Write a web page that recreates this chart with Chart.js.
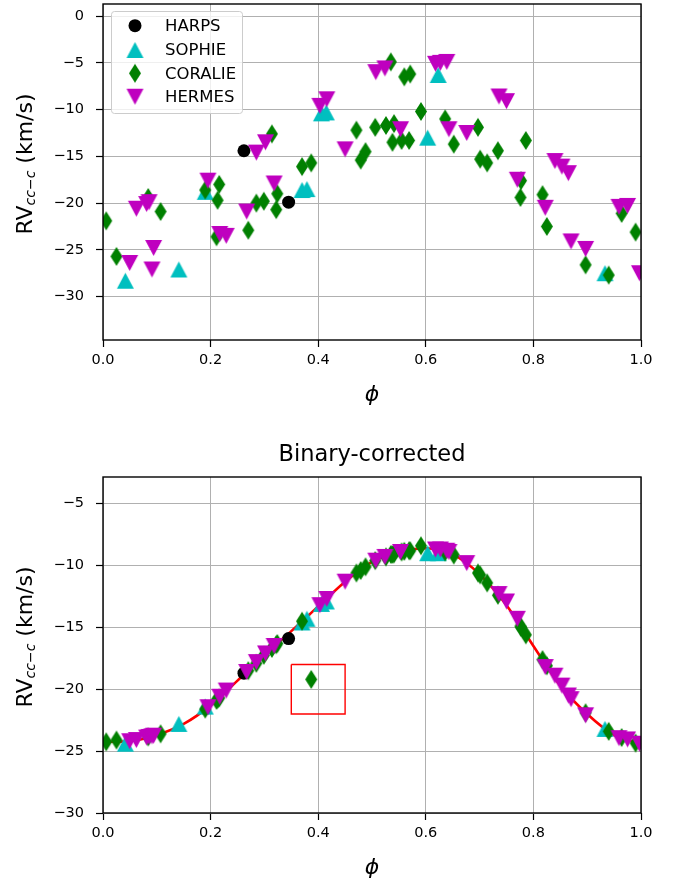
<!DOCTYPE html>
<html>
<head>
<meta charset="utf-8">
<script src="https://cdn.jsdelivr.net/npm/chart.js@4.4.0/dist/chart.umd.min.js"></script>
<style>
  html, body { margin: 0; padding: 0; background: #fff; }
  #wrap { position: relative; width: 676px; height: 884px; overflow: hidden; }
  canvas { position: absolute; left: 0; }
</style>
</head>
<body>
<div id="wrap">
  <canvas id="topChart" width="676" height="428" style="top:-8px"></canvas>
  <canvas id="bottomChart" width="676" height="464" style="top:420px"></canvas>
</div>
<script>
// ---- data ----
const xTicks = [0, 0.2, 0.4, 0.6, 0.8, 1.0];
const topYTicks = [0, -5, -10, -15, -20, -25, -30];
const bottomYTicks = [-5, -10, -15, -20, -25, -30];

const harpsPhase = [0.262, 0.345];
const harpsRv = [-14.4, -19.9];
const harpsRvCorr = [-18.7, -15.9];

const sophiePhase = [0.0415, 0.141, 0.190, 0.370, 0.379, 0.406, 0.415, 0.6035, 0.623, 0.933];
const sophieRv = [-28.3, -27.1, -18.8, -18.6, -18.5, -10.4, -10.3, -13.0, -6.3, -27.5];
const sophieRvCorr = [-24.4, -22.8, -21.4, -14.6, -14.3, -13.1, -12.9, -9.0, -9.0, -23.2];

const coraliePhase = [0.006, 0.025, 0.084, 0.107, 0.190, 0.211, 0.213, 0.216, 0.270, 0.285,
  0.299, 0.314, 0.322, 0.324, 0.370, 0.387, 0.471, 0.479, 0.488, 0.506,
  0.526, 0.535, 0.538, 0.541, 0.555, 0.560, 0.569, 0.571, 0.591, 0.636,
  0.652, 0.697, 0.701, 0.714, 0.734, 0.776, 0.777, 0.786, 0.817, 0.825,
  0.897, 0.940, 0.964, 0.990];
const coralieRv = [-21.9, -25.7, -19.4, -20.9, -18.6, -23.6, -19.7, -18.0, -22.9, -20.0,
  -19.8, -12.6, -20.7, -19.0, -16.1, -15.7, -12.2, -15.4, -14.5, -11.9,
  -11.7, -4.9, -13.5, -11.5, -13.3, -6.5, -13.3, -6.2, -10.2, -11.0,
  -13.7, -11.9, -15.3, -15.7, -14.4, -19.4, -17.6, -13.3, -19.1, -22.5,
  -26.6, -27.7, -21.1, -23.1];
const coralieRvCorr = [-24.25, -24.1, -23.85, -23.6, -21.6, -20.9, -20.8, -20.7, -18.5, -17.9,
  -17.25, -16.7, -16.4, -16.3, -14.5, -19.2, -10.6, -10.4, -10.1, -9.6,
  -9.3, -9.1, -9.1, -9.05, -8.9, -8.85, -8.8, -8.8, -8.4, -8.9,
  -9.15, -10.6, -10.75, -11.4, -12.4, -14.9, -15.0, -15.6, -17.6, -18.1,
  -21.9, -23.4, -23.9, -24.35];

const hermesPhase = [0.0496, 0.062, 0.081, 0.0856, 0.091, 0.094, 0.195, 0.217, 0.229, 0.267,
  0.285, 0.302, 0.318, 0.403, 0.416, 0.450, 0.507, 0.524, 0.553, 0.618,
  0.627, 0.639, 0.643, 0.676, 0.736, 0.750, 0.770, 0.822, 0.840, 0.853,
  0.865, 0.870, 0.897, 0.959, 0.975, 0.997];
const hermesRv = [-26.4, -20.6, -20.1, -19.9, -27.1, -24.8, -17.6, -23.3, -23.5, -20.9,
  -14.6, -13.5, -17.9, -9.6, -8.9, -14.25, -6.0, -5.6, -12.1, -5.1,
  -5.0, -4.9, -12.1, -12.5, -8.6, -9.1, -17.5, -20.5, -15.5, -16.1,
  -16.8, -24.1, -24.9, -20.4, -20.3, -27.5];
const hermesRvCorr = [-24.2, -24.1, -23.9, -23.85, -23.8, -23.75, -21.45, -20.6, -20.1, -18.6,
  -17.8, -17.1, -16.5, -13.2, -12.7, -11.3, -9.6, -9.3, -8.9, -8.7,
  -8.7, -8.8, -8.9, -9.8, -12.3, -12.9, -14.3, -18.2, -18.9, -19.7,
  -20.5, -20.8, -22.1, -23.95, -24.05, -24.4];

// orbit model (red curve) in the corrected panel
const modelPhase = [0, 0.05, 0.10, 0.15, 0.20, 0.25, 0.30, 0.35, 0.40, 0.45, 0.50,
  0.55, 0.60, 0.65, 0.70, 0.75, 0.80, 0.85, 0.90, 0.95, 1.0];
const modelRv = [-24.25, -24.2, -23.7, -22.8, -21.3, -19.3, -17.2, -15.3, -13.3, -11.3, -9.7,
  -8.9, -8.6, -9.1, -10.7, -13.2, -16.5, -19.7, -22.0, -23.7, -24.4];

// outlier box
const boxPhase = [0.35, 0.45, 0.45, 0.35, 0.35];
const boxRv = [-18, -18, -22, -22, -18];

// ---- helpers ----
const FONT = '"DejaVu Sans", "Liberation Sans", sans-serif';
const pts = (xs, ys) => xs.map((x, i) => ({ x, y: ys[i] }));
const minus = (v) => String(v).replace('-', '\u2212');

function makeMarker(kind, color) {
  const c = document.createElement('canvas');
  const w = kind === 'diamond' ? 14 : 19;
  const h = kind === 'diamond' ? 21 : 18;
  c.width = w;
  c.height = h;
  const g = c.getContext('2d');
  g.fillStyle = color;
  g.beginPath();
  if (kind === 'up') {
    g.moveTo(w / 2, 1); g.lineTo(w - 1, h - 1); g.lineTo(1, h - 1);
  } else if (kind === 'down') {
    g.moveTo(1, 1); g.lineTo(w - 1, 1); g.lineTo(w / 2, h - 1);
  } else {
    g.moveTo(w / 2, 1); g.lineTo(w - 1, h / 2); g.lineTo(w / 2, h - 1); g.lineTo(1, h / 2);
  }
  g.closePath();
  g.fill();
  return c;
}

const instruments = [
  { label: 'HARPS', color: '#000000', style: 'circle' },
  { label: 'SOPHIE', color: '#00bfbf', style: makeMarker('up', '#00bfbf') },
  { label: 'CORALIE', color: '#008000', style: makeMarker('diamond', '#008000') },
  { label: 'HERMES', color: '#bf00bf', style: makeMarker('down', '#bf00bf') },
];

function scatterSet(inst, data, order) {
  return {
    type: 'scatter',
    label: inst.label,
    data,
    pointStyle: inst.style,
    pointRadius: inst.style === 'circle' ? 6.5 : 8,
    backgroundColor: inst.color,
    borderWidth: 0,
    order,
    clip: 0,
  };
}

function drawYLabel(ctx, baseX, centerY) {
  const big = '22px ' + FONT;
  const small = 'italic 14px ' + FONT;
  const parts = [
    { t: 'RV', f: big, dy: 0 },
    { t: 'cc\u2212c', f: small, dy: 3 },
    { t: ' (km/s)', f: big, dy: 0 },
  ];
  let total = 0;
  parts.forEach((p) => { ctx.font = p.f; p.w = ctx.measureText(p.t).width; total += p.w; });
  ctx.save();
  ctx.translate(baseX, centerY);
  ctx.rotate(-Math.PI / 2);
  ctx.fillStyle = '#000';
  ctx.textBaseline = 'alphabetic';
  ctx.textAlign = 'left';
  let x = -total / 2;
  parts.forEach((p) => { ctx.font = p.f; ctx.fillText(p.t, x, p.dy); x += p.w; });
  ctx.restore();
}

function framePlugin(extra) {
  return {
    id: 'frame',
    afterDraw(chart) {
      const { ctx, chartArea: a } = chart;
      ctx.save();
      ctx.strokeStyle = '#000';
      ctx.lineWidth = 1.4;
      ctx.strokeRect(a.left, a.top, a.right - a.left, a.bottom - a.top);
      // x axis label
      ctx.fillStyle = '#000';
      ctx.font = 'italic 22px ' + FONT;
      ctx.textAlign = 'center';
      ctx.textBaseline = 'alphabetic';
      ctx.fillText('\u03D5', (a.left + a.right) / 2, a.bottom + 61);
      drawYLabel(ctx, 31.5, (a.top + a.bottom) / 2 - 8);
      if (extra) extra(chart);
      ctx.restore();
    },
  };
}

function drawLegend(chart) {
  const { ctx, chartArea: a } = chart;
  // legend box sits just inside the upper-left corner of the axes
  const x0 = a.left + 8.5, y0 = a.top + 7.5, w = 131, h = 102;
  ctx.save();
  ctx.beginPath();
  ctx.roundRect(x0, y0, w, h, 3);
  ctx.fillStyle = 'rgba(255,255,255,0.8)';
  ctx.fill();
  ctx.strokeStyle = '#cccccc';
  ctx.lineWidth = 1;
  ctx.stroke();
  const rows = [14.2, 38.5, 61.8, 85.2];
  ctx.font = '16.5px ' + FONT;
  ctx.textBaseline = 'middle';
  ctx.textAlign = 'left';
  instruments.forEach((inst, i) => {
    const cy = y0 + rows[i];
    if (inst.style === 'circle') {
      ctx.beginPath();
      ctx.arc(x0 + 23.5, cy, 6.5, 0, Math.PI * 2);
      ctx.fillStyle = inst.color;
      ctx.fill();
    } else {
      ctx.drawImage(inst.style, x0 + 23.5 - inst.style.width / 2, cy - inst.style.height / 2);
    }
    ctx.fillStyle = '#000';
    ctx.fillText(inst.label, x0 + 53.5, cy + 1);
  });
  ctx.restore();
}

function drawTitle(chart) {
  const { ctx, chartArea: a } = chart;
  ctx.fillStyle = '#000';
  ctx.font = '22.5px ' + FONT;
  ctx.textAlign = 'center';
  ctx.textBaseline = 'alphabetic';
  ctx.fillText('Binary-corrected', (a.left + a.right) / 2, a.top - 16.5);
}

function axes(yMin, yMax, yTicks) {
  const tickFont = { family: FONT, size: 14.5 };
  return {
    x: {
      type: 'linear',
      min: 0,
      max: 1,
      afterBuildTicks: (s) => { s.ticks = xTicks.map((v) => ({ value: v })); },
      afterFit: (s) => { s.height = 56; s.paddingLeft = 0; s.paddingRight = 0; },
      ticks: { color: '#000', font: tickFont, padding: 5, callback: (v) => v.toFixed(1) },
      grid: { color: '#b0b0b0', lineWidth: 1, tickLength: 7, tickColor: '#000', tickWidth: 1.2 },
      border: { display: false },
    },
    y: {
      type: 'linear',
      min: yMin,
      max: yMax,
      afterBuildTicks: (s) => { s.ticks = yTicks.map((v) => ({ value: v })); },
      afterFit: (s) => { s.width = 103; s.paddingTop = 0; s.paddingBottom = 0; },
      ticks: { color: '#000', font: tickFont, padding: 12, callback: (v) => minus(v) },
      grid: { color: '#b0b0b0', lineWidth: 1, tickLength: 7, tickColor: '#000', tickWidth: 1.2 },
      border: { display: false },
    },
  };
}

const baseOptions = {
  responsive: false,
  animation: false,
  devicePixelRatio: 1,
  events: [],
  plugins: { legend: { display: false }, tooltip: { enabled: false } },
};

new Chart(document.getElementById('topChart'), {
  type: 'scatter',
  data: {
    datasets: [
      scatterSet(instruments[0], pts(harpsPhase, harpsRv), 4),
      scatterSet(instruments[1], pts(sophiePhase, sophieRv), 3),
      scatterSet(instruments[2], pts(coraliePhase, coralieRv), 2),
      scatterSet(instruments[3], pts(hermesPhase, hermesRv), 1),
    ],
  },
  options: {
    ...baseOptions,
    layout: { padding: { left: 0, right: 35, top: 12, bottom: 24 } },
    scales: axes(-34.64, 1.29, topYTicks),
  },
  plugins: [framePlugin(drawLegend)],
});

new Chart(document.getElementById('bottomChart'), {
  type: 'scatter',
  data: {
    datasets: [
      {
        type: 'line',
        label: 'model',
        data: pts(modelPhase, modelRv),
        borderColor: '#ff0000',
        borderWidth: 2.6,
        pointRadius: 0,
        cubicInterpolationMode: 'monotone',
        fill: false,
        order: 5,
      },
      scatterSet(instruments[0], pts(harpsPhase, harpsRvCorr), 4),
      scatterSet(instruments[1], pts(sophiePhase, sophieRvCorr), 3),
      scatterSet(instruments[2], pts(coraliePhase, coralieRvCorr), 2),
      scatterSet(instruments[3], pts(hermesPhase, hermesRvCorr), 1),
      {
        type: 'line',
        label: 'outlier',
        data: pts(boxPhase, boxRv),
        borderColor: '#ff0000',
        borderWidth: 1.4,
        pointRadius: 0,
        tension: 0,
        fill: false,
        order: 0,
      },
    ],
  },
  options: {
    ...baseOptions,
    layout: { padding: { left: 0, right: 35, top: 57, bottom: 15 } },
    scales: axes(-30, -2.84, bottomYTicks),
  },
  plugins: [framePlugin(drawTitle)],
});
</script>
</body>
</html>
